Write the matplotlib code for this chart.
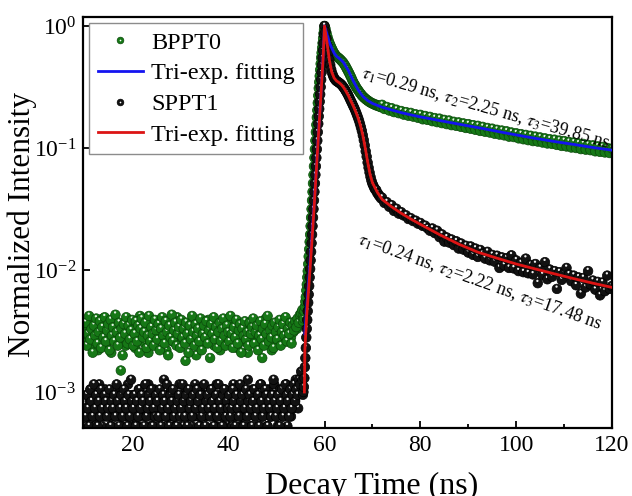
import numpy as np
import matplotlib
matplotlib.use('Agg')
import matplotlib.pyplot as plt
from matplotlib.collections import PathCollection
from matplotlib.path import Path
from matplotlib.lines import Line2D
from matplotlib.ticker import MultipleLocator, NullLocator
from matplotlib.transforms import IdentityTransform

plt.rcParams['font.family'] = ['Liberation Serif', 'DejaVu Serif']
plt.rcParams['mathtext.fontset'] = 'stix'

# ---- data ----
# baseline before the pulse: channels at t = 10.0 ... 55.25 ns (step 0.25 ns)
# and the in-between channels at t = 10.125 ... 55.375 ns
green_base = [  # x 1e-4
    31, 27, 35, 29, 24, 33, 38, 30, 26, 34, 28, 22, 36, 31, 29, 40, 33, 27, 25, 32,
    30, 35, 21, 28, 37, 31, 26, 34, 29, 33, 15, 27, 36, 30, 24, 32, 39, 28, 31, 26,
    34, 29, 23, 35, 30, 27, 42, 31, 28, 33, 25, 36, 30, 21, 29, 34, 27, 32, 38, 26,
    31, 29, 35, 24, 30, 33, 28, 37, 22, 31, 27, 34, 30, 26, 36, 29, 32, 41, 28, 25,
    33, 30, 27, 35, 18, 31, 29, 34, 26, 37, 30, 28, 32, 20, 33, 29, 36, 27, 31, 25,
    34, 30, 28, 39, 26, 32, 29, 35, 24, 31, 27, 33, 30, 22, 36, 28, 31, 26, 34, 29,
    38, 27, 32, 25, 30, 35, 28, 23, 33, 29, 31, 36, 26, 30, 27, 34, 21, 32, 29, 37,
    28, 31, 25, 33, 30, 27, 35, 29, 19, 32, 28, 40, 30, 26, 34, 31, 22, 29, 33, 27,
    36, 30, 25, 32, 28, 34, 29, 31, 26, 35, 30, 33, 28, 36, 31, 34, 38, 33, 36, 40,
    41, 45]
green_base2 = [  # x 1e-4
    37, 24, 30, 42, 27, 33, 21, 35, 29, 40, 25, 31, 38, 23, 34, 28, 41, 26, 32, 36,
    22, 39, 29, 34, 26, 43, 31, 24, 37, 28, 33, 20, 36, 30, 41, 25, 35, 27, 32, 39,
    24, 30, 38, 26, 35, 21, 33, 40, 28, 31, 37, 23, 29, 42, 26, 34, 30, 24, 39, 32,
    27, 36, 22, 33, 41, 29, 25, 38, 31, 20, 35, 28, 43, 26, 32, 37, 24, 30, 34, 23,
    39, 28, 33, 25, 37, 30, 21, 35, 27, 42, 31, 24, 36, 29, 33, 26, 40, 22, 30, 35,
    28, 38, 25, 32, 19, 36, 30, 41, 27, 34, 23, 31, 37, 26, 33, 40, 29, 24, 35, 31,
    26, 42, 30, 23, 34, 28, 39, 25, 32, 36, 21, 33, 29, 38, 27, 31, 24, 37, 30, 34,
    40, 25, 31, 35, 22, 29, 38, 27, 33, 24, 36, 30, 42, 26, 32, 28, 35, 23, 37, 31,
    27, 34, 39, 24, 31, 36, 29, 41, 26, 33, 30, 37, 25, 35, 32, 38, 34, 40, 37, 43,
    44, 47]
black_base = [  # photon counts, 1 count = 1.05e-4
    7, 5, 9, 6, 8, 10, 6, 7, 5, 8, 9, 6, 11, 7, 5, 8, 6, 10, 7, 9,
    6, 8, 5, 7, 9, 6, 4, 8, 7, 10, 6, 5, 8, 9, 7, 6, 11, 8, 5, 7,
    9, 6, 8, 7, 5, 10, 6, 9, 7, 8, 4, 6, 9, 11, 7, 5, 8, 6, 10, 7,
    8, 5, 7, 9, 6, 8, 12, 7, 5, 9, 6, 8, 10, 7, 6, 5, 9, 8, 7, 11,
    6, 8, 5, 7, 10, 9, 6, 7, 8, 5, 9, 6, 11, 7, 8, 6, 10, 5, 7, 9,
    8, 6, 7, 4, 9, 10, 7, 8, 6, 5, 11, 8, 7, 9, 6, 8, 5, 10, 7, 6,
    9, 7, 8, 5, 11, 6, 9, 7, 8, 10, 6, 5, 7, 9, 8, 6, 12, 7, 5, 8,
    10, 7, 6, 9, 8, 5, 7, 11, 6, 8, 9, 7, 5, 10, 8, 6, 7, 9, 11, 6,
    8, 5, 7, 10, 9, 6, 8, 7, 11, 5, 9, 8, 6, 10, 7, 8, 12, 9, 7, 11,
    10, 13]
black_base2 = [  # photon counts
    6, 9, 7, 5, 10, 8, 6, 11, 7, 9, 5, 8, 6, 10, 7, 4, 9, 8, 6, 7,
    10, 5, 8, 7, 9, 6, 11, 8, 5, 7, 9, 6, 10, 8, 7, 5, 9, 6, 12, 8,
    7, 9, 5, 8, 6, 10, 7, 9, 8, 5, 11, 6, 7, 9, 8, 10, 5, 7, 6, 9,
    8, 6, 10, 5, 7, 9, 8, 6, 11, 7, 5, 9, 8, 10, 6, 7, 5, 8, 9, 6,
    7, 11, 8, 6, 9, 5, 10, 7, 8, 6, 9, 4, 7, 10, 8, 5, 9, 6, 7, 11,
    5, 8, 9, 7, 6, 10, 8, 5, 7, 9, 6, 11, 8, 7, 5, 9, 10, 6, 8, 7,
    9, 6, 7, 10, 8, 5, 9, 7, 6, 11, 8, 9, 5, 7, 10, 6, 8, 9, 7, 5,
    8, 10, 6, 7, 9, 5, 11, 8, 6, 7, 10, 9, 5, 8, 7, 6, 9, 12, 8, 6,
    7, 9, 5, 8, 10, 6, 7, 11, 9, 8, 6, 10, 7, 9, 11, 8, 10, 9, 12, 11,
    14, 12]

# rising edge, t = 55.5 ... 59.9 ns, step 0.1 ns
green_rise = [0.0038, 0.0042, 0.0040, 0.0046, 0.0050, 0.0055, 0.0060, 0.0068, 0.0076, 0.0087,
              0.0098, 0.0112, 0.0129, 0.0148, 0.0170, 0.0195, 0.0229, 0.0269, 0.0316, 0.0372,
              0.0437, 0.0513, 0.0603, 0.0708, 0.0832, 0.0977, 0.115, 0.135, 0.155, 0.178,
              0.204, 0.234, 0.269, 0.309, 0.347, 0.389, 0.437, 0.490, 0.550, 0.603,
              0.661, 0.724, 0.794, 0.871, 0.933]
black_rise = [0.00095, 0.0010, 0.0011, 0.0013, 0.0016, 0.0019, 0.0023, 0.0028, 0.0033, 0.0039,
              0.0046, 0.0054, 0.0063, 0.0074, 0.0087, 0.0102, 0.0120, 0.0141, 0.0166, 0.0195,
              0.0229, 0.0269, 0.0316, 0.0372, 0.0437, 0.0513, 0.0603, 0.0708, 0.0832, 0.0977,
              0.115, 0.135, 0.158, 0.182, 0.209, 0.240, 0.275, 0.316, 0.363, 0.417,
              0.479, 0.550, 0.631, 0.724, 0.850]

# peak and fast decay, t = 60.0 ... 71.8 ns, step 0.2 ns
green_peak = [1.00, 0.95, 0.88, 0.82, 0.77, 0.73, 0.70, 0.67, 0.645, 0.62,
              0.60, 0.585, 0.57, 0.56, 0.552, 0.545, 0.535, 0.527, 0.515, 0.507,
              0.495, 0.48, 0.468, 0.45, 0.437, 0.42, 0.407, 0.39, 0.377, 0.36,
              0.347, 0.335, 0.326, 0.314, 0.306, 0.298, 0.291, 0.282, 0.278, 0.269,
              0.266, 0.259, 0.257, 0.251, 0.249, 0.244, 0.243, 0.238, 0.237, 0.233,
              0.233, 0.229, 0.229, 0.225, 0.226, 0.222, 0.223, 0.219, 0.220, 0.216]
black_peak = [1.00, 0.90, 0.79, 0.69, 0.60, 0.53, 0.48, 0.44, 0.41, 0.39,
              0.375, 0.365, 0.357, 0.352, 0.348, 0.344, 0.339, 0.334, 0.328, 0.321,
              0.313, 0.305, 0.296, 0.287, 0.278, 0.268, 0.258, 0.248, 0.239, 0.230,
              0.221, 0.213, 0.204, 0.195, 0.186, 0.177, 0.168, 0.158, 0.148, 0.138,
              0.127, 0.116, 0.105, 0.094, 0.085, 0.076, 0.069, 0.063, 0.058, 0.054,
              0.051, 0.049, 0.047, 0.0455, 0.0452, 0.0428, 0.0421, 0.0405, 0.0401, 0.0386]

# slow tail, t = 72.0 ... 120.0 ns, step 0.5 ns
green_tail = [  # x 1e-3
    226, 209, 217, 203, 212, 197, 206, 193, 201, 188,
    197, 184, 194, 181, 189, 177, 187, 172, 183, 170,
    180, 166, 176, 163, 174, 160, 170, 157, 168, 154,
    164, 152, 162, 149, 159, 146, 157, 144, 154, 141,
    152, 138, 149, 136, 146, 134, 144, 131, 141, 129,
    139, 127, 137, 124, 134, 123, 132, 120, 130, 118,
    128, 116, 126, 114, 124, 113, 122, 111, 120, 109,
    118, 108, 117, 106, 115, 104, 114, 103, 112, 101,
    111, 100, 109, 98, 108, 97, 106, 96, 105, 94,
    103, 93, 102, 92, 100, 91, 99]
black_tail = [  # x 1e-4
    392, 355, 360, 330, 340, 305, 318, 290, 298, 280,
    281, 262, 266, 252, 254, 240, 243, 230, 231, 220,
    210, 219, 201, 210, 186, 196, 171, 185, 168, 178,
    160, 172, 150, 165, 147, 158, 139, 156, 133, 150,
    128, 146, 136, 124, 141, 120, 133, 117, 131, 104,
    127, 109, 125, 104, 132, 103, 120, 98, 114, 96,
    124, 94, 110, 92, 112, 78, 104, 91, 116, 84,
    101, 88, 98, 70, 96, 83, 94, 104, 92, 81,
    90, 75, 87, 64, 86, 72, 98, 76, 82, 69,
    80, 62, 79, 67, 90, 70, 74]

# tri-exponential fits
blue_t = [55.9, 56.3, 56.8, 57.3, 57.8, 58.3, 58.8, 59.3, 59.7, 60.0, 60.5, 61.0, 61.5, 62.0,
          62.5, 63.0, 63.5, 64.0, 65.0, 66.0, 67.0, 68.0, 69.0, 70.0, 72.0, 74.0, 76.0, 78.0,
          80.0, 84.0, 88.0, 92.0, 96.0, 100.0, 104.0, 108.0, 112.0, 116.0, 120.0]
blue_fit = [0.0030, 0.0050, 0.0092, 0.0170, 0.033, 0.068, 0.145, 0.30, 0.55, 1.0, 0.86, 0.74,
            0.66, 0.60, 0.565, 0.545, 0.525, 0.50, 0.43, 0.355, 0.30, 0.265, 0.245, 0.232, 0.216,
            0.205, 0.195, 0.187, 0.180, 0.168, 0.157, 0.147, 0.137, 0.128, 0.120, 0.113, 0.107,
            0.101, 0.096]
red_t = [55.8, 55.9, 56.3, 56.8, 57.3, 57.8, 58.3, 58.8, 59.3, 59.7, 60.0, 60.5, 61.0, 61.5,
         62.0, 62.5, 63.0, 63.5, 64.0, 64.5, 65.0, 65.5, 66.0, 66.5, 67.0, 67.5, 68.0, 68.5,
         69.0, 69.5, 70.0, 71.0, 72.0, 74.0, 76.0, 78.0, 80.0, 84.0, 88.0, 92.0, 96.0, 100.0,
         104.0, 108.0, 112.0, 116.0, 120.0]
red_fit = [0.0010, 0.0022, 0.0043, 0.0080, 0.0155, 0.031, 0.066, 0.14, 0.29, 0.54, 1.0, 0.74,
           0.53, 0.42, 0.375, 0.355, 0.344, 0.331, 0.313, 0.291, 0.268, 0.243, 0.221, 0.199,
           0.177, 0.153, 0.127, 0.10, 0.077, 0.061, 0.052, 0.0435, 0.038, 0.033, 0.0292,
           0.0262, 0.0237, 0.0195, 0.0163, 0.0140, 0.0125, 0.0112, 0.0102, 0.0093, 0.0085,
           0.0078, 0.0072]

labels = ['BPPT0', 'Tri-exp. fitting', 'SPPT1', 'Tri-exp. fitting']
tau_bppt0 = r'$\tau_{\mathit{1}}$=0.29 ns, $\tau_{\mathit{2}}$=2.25 ns, $\tau_{\mathit{3}}$=39.85 ns'
tau_sppt1 = r'$\tau_{\mathit{1}}$=0.24 ns, $\tau_{\mathit{2}}$=2.22 ns, $\tau_{\mathit{3}}$=17.48 ns'


def grid(start, step, n):
    return start + step * np.arange(n)


def assemble(base, base2, base_unit, rise, peak, tail, tail_unit):
    t = np.concatenate([grid(10.0, 0.25, len(base)), grid(10.125, 0.25, len(base2)),
                        grid(55.5, 0.1, len(rise)), grid(60.0, 0.2, len(peak)),
                        grid(72.0, 0.5, len(tail))])
    y = np.concatenate([np.array(base) * base_unit, np.array(base2) * base_unit,
                        rise, peak, np.array(tail) * tail_unit])
    return t, y


def spheres(ax, t, y, face, edge, shine, size=6.9, z=2):
    # each point = dark ball + small light spot, drawn in turn so later balls cover earlier spots
    n = len(t)
    xy = np.empty((2 * n, 2))
    xy[0::2, 0] = t
    xy[0::2, 1] = y
    xy[1::2] = xy[0::2]
    body = Path.circle((0, 0), 0.5)
    spot = Path.circle((-0.04, 0.24), 0.12)
    col = PathCollection([body, spot], sizes=[size ** 2], offsets=xy,
                         offset_transform=ax.transData,
                         facecolors=[face, shine], edgecolors=[edge, 'none'],
                         linewidths=[0.5, 0], zorder=z)
    col.set_transform(IdentityTransform())
    ax.add_collection(col, autolim=False)


green = '#167816'
fig = plt.figure(figsize=(6.32, 4.96), dpi=100)
ax = fig.add_axes([0.1313, 0.1371, 0.8371, 0.8286])
ax.set_yscale('log')

tg, yg = assemble(green_base, green_base2, 1e-4, green_rise, green_peak, green_tail, 1e-3)
tk, yk = assemble(black_base, black_base2, 1.05e-4, black_rise, black_peak, black_tail, 1e-4)
spheres(ax, tg, yg, green, '#0a480a', '#e4f0e4', z=2)
spheres(ax, tk, yk, '#121212', '#000000', '#f0f0f0', z=2.1)

blue_line, = ax.plot(blue_t, blue_fit, color='#1414f0', lw=2.0, zorder=3)
red_line, = ax.plot(red_t, red_fit, color='#dc1414', lw=2.0, zorder=3.1)

ax.set_xlim(9.6, 120)
ax.set_ylim(5.07e-4, 1.185)
ax.xaxis.set_major_locator(MultipleLocator(20))
ax.xaxis.set_minor_locator(MultipleLocator(10))
ax.yaxis.set_minor_locator(NullLocator())
ax.tick_params(which='both', direction='in', top=False, right=False, width=1.3, labelsize=17)
ax.tick_params(which='major', length=5, pad=5)
ax.tick_params(which='minor', length=3)
for sp in ax.spines.values():
    sp.set_linewidth(1.6)

ax.set_xlabel('Decay Time (ns)', fontsize=23)
ax.xaxis.set_label_coords(0.546, -0.108)
ax.set_ylabel('Normalized Intensity', fontsize=22.5)
ax.yaxis.set_label_coords(-0.087, 0.495)

ax.text(67.5, 0.38, tau_bppt0, rotation=-16, rotation_mode='anchor',
        ha='left', va='baseline', fontsize=13)
ax.text(66.7, 0.0166, tau_sppt1, rotation=-19.5, rotation_mode='anchor',
        ha='left', va='baseline', fontsize=13)

h_g = (Line2D([], [], ls='', marker='o', ms=4.8, mfc=green, mec='#0a480a', mew=0.5),
       Line2D([], [], ls='', marker='o', ms=1.2, mfc='white', mec='none'))
h_k = (Line2D([], [], ls='', marker='o', ms=4.8, mfc='#121212', mec='black', mew=0.5),
       Line2D([], [], ls='', marker='o', ms=1.2, mfc='white', mec='none'))
leg = ax.legend([h_g, blue_line, h_k, red_line], labels, loc='upper left', fontsize=17.5,
                fancybox=False, edgecolor='0.55', framealpha=1, borderaxespad=0.25,
                borderpad=0.35, labelspacing=0.36, handlelength=1.85, handletextpad=0.35,
                numpoints=1)
leg.get_frame().set_linewidth(1.0)

fig.savefig('out.png', dpi=100)
